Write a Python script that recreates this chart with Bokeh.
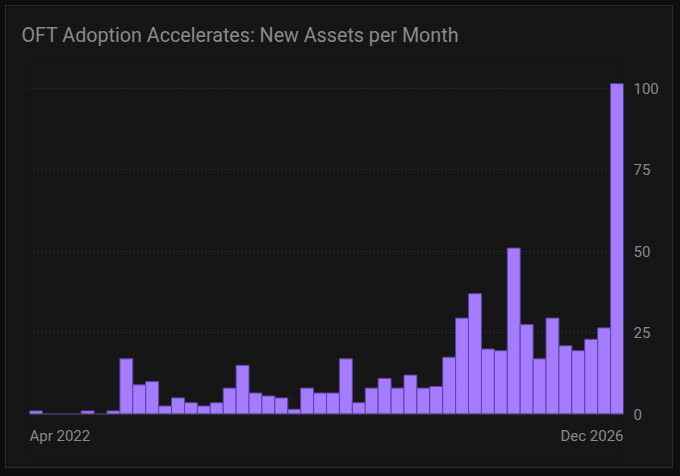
from bokeh.plotting import figure
from bokeh.models import Label, Span, FixedTicker, Range1d
from bokeh.embed import file_html
from bokeh.resources import INLINE

title_text = "OFT Adoption Accelerates: New Assets per Month"
first_label = "Apr 2022"
last_label = "Dec 2026"
y_ticks = [0, 25, 50, 75, 100]

# New assets per month (46 monthly bars)
values = [1, 0, 0, 0, 1, 0, 1, 17, 9, 10,
          2.5, 5, 3.5, 2.5, 3.5, 8, 15, 6.5, 5.6, 5,
          1.5, 8, 6.5, 6.5, 17, 3.5, 8, 11, 8, 12,
          8, 8.5, 17.5, 29.5, 37, 20, 19.5, 51, 27.5, 17,
          29.5, 21, 19.5, 23, 26.5, 101.5]
idx = list(range(len(values)))

BG = "#161616"
TXT = "#8a8a8a"
BAR = "#a67cff"

p = figure(width=668, height=463, output_backend="svg", toolbar_location=None,
           x_range=Range1d(-0.5, len(values) - 0.5), y_range=Range1d(-13, 108),
           y_axis_location="right", title=title_text,
           min_border_left=23, min_border_right=51, min_border_bottom=13, min_border_top=56)
p.background_fill_color = BG
p.border_fill_color = BG
p.outline_line_color = None
p.styles = {"border": "1px solid #2c2c2c"}

p.title.text_font = "Roboto"
p.title.text_font_size = "19.7px"
p.title.text_font_style = "normal"
p.title.text_color = TXT
p.title.align = "left"
p.title.offset = -8
p.title.standoff = 31

p.vbar(x=idx, top=values, width=1.0, fill_color=BAR, line_color="#5e43a3", line_width=1)

p.xaxis.visible = False
p.xgrid.visible = False
p.ygrid.ticker = FixedTicker(ticks=y_ticks[1:])
p.ygrid.grid_line_color = "#3a3a3a"
p.ygrid.grid_line_dash = "1 3"
p.ygrid.level = "underlay"

ya = p.yaxis[0]
ya.ticker = FixedTicker(ticks=y_ticks)
ya.axis_line_color = None
ya.major_tick_line_color = None
ya.minor_tick_line_color = None
ya.major_tick_out = 0
ya.major_tick_in = 0
ya.major_label_text_color = TXT
ya.major_label_text_font = "Roboto"
ya.major_label_text_font_size = "15px"
ya.major_label_standoff = 10

p.add_layout(Span(location=0, dimension="width", line_color="#333333", line_width=1))

p.add_layout(Label(x=-0.5, y=-6.7, text=first_label, text_align="left", text_baseline="alphabetic",
                   text_color=TXT, text_font="Roboto", text_font_size="15px"))
p.add_layout(Label(x=len(values) - 0.5, y=-6.7, text=last_label, text_align="right",
                   text_baseline="alphabetic",
                   text_color=TXT, text_font="Roboto", text_font_size="15px"))

html = file_html(p, INLINE)
html = html.replace("<head>", "<head><style>html{background:#0e0e0e;} body{background:#0e0e0e; margin:5px !important;}</style>", 1)
open("out.html", "w").write(html)
